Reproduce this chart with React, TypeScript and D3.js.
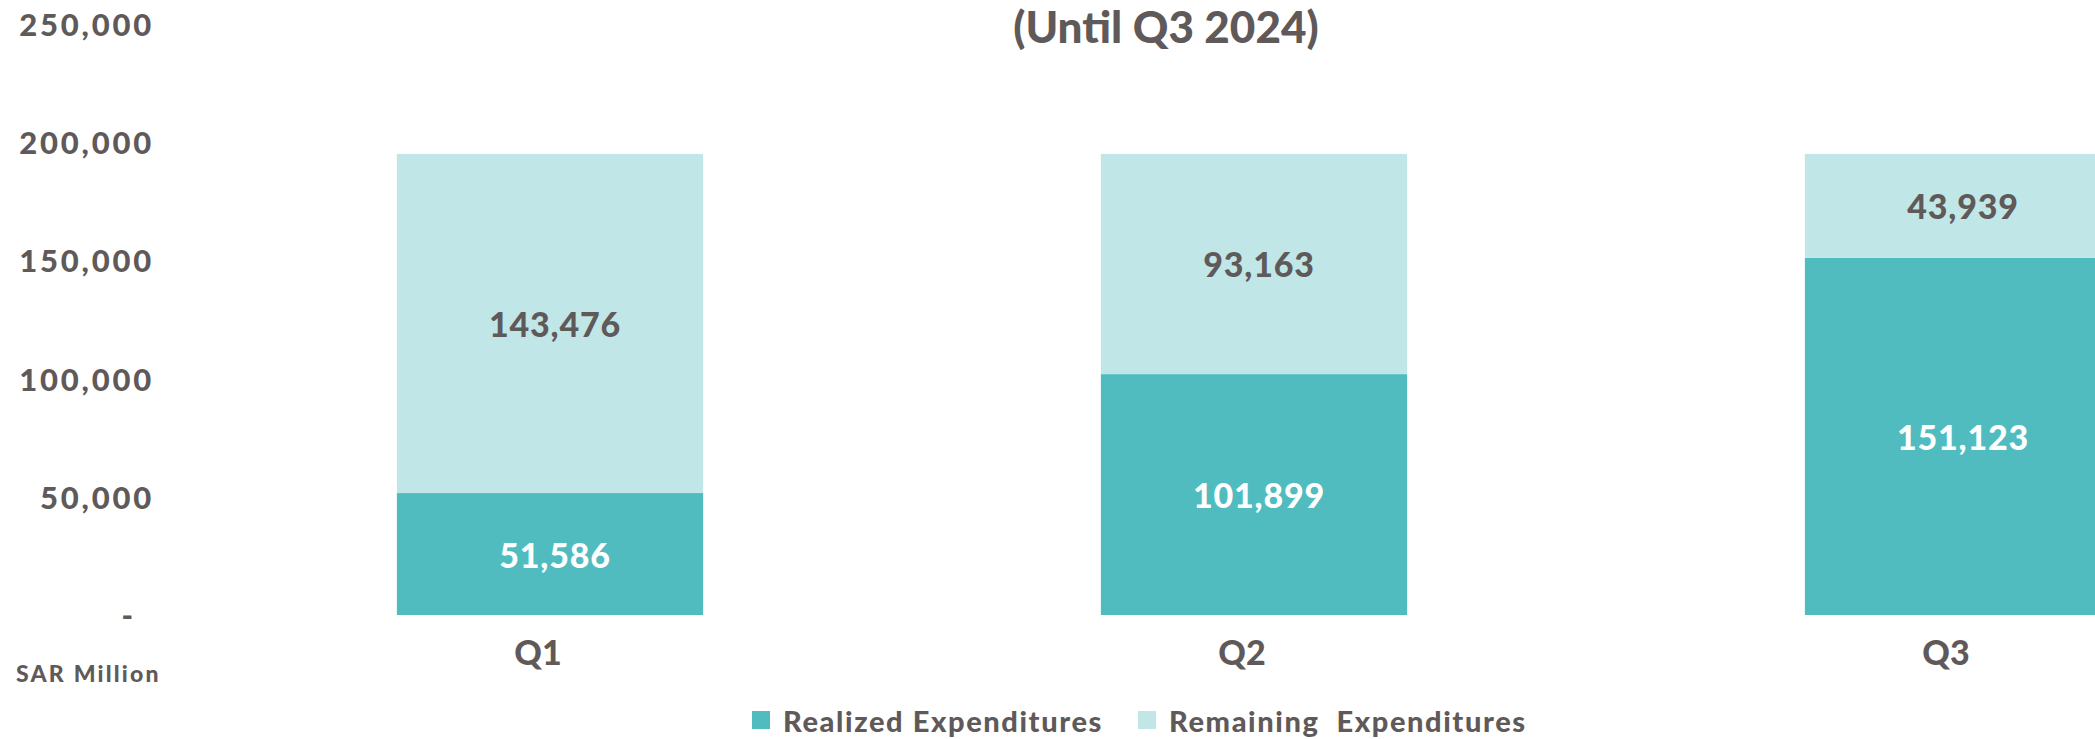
import React, { useEffect, useRef } from 'react';
import * as d3 from 'd3';

const quarters = ['Q1', 'Q2', 'Q3'];
const realized = [51586, 101899, 151123];
const remaining = [143476, 93163, 43939];
const yTicks = [0, 50000, 100000, 150000, 200000, 250000];
const seriesNames = ['Realized Expenditures', 'Remaining  Expenditures'];
const title = '(Until Q3 2024)';
const unitLabel = 'SAR Million';

const colors = ['#50bcbf', '#c1e6e7'];
const textGray = '#5f5a59';
const font = 'Lato, "Open Sans", sans-serif';

function App() {
  const ref = useRef(null);
  const width = 2095;
  const height = 739;

  useEffect(() => {
    document.body.style.margin = '0';
    drawChart();
  }, []);

  function drawChart() {
    const root = d3.select(ref.current);
    root.selectAll('*').remove();

    const svg = root
      .append('svg')
      .attr('width', width)
      .attr('height', height)
      .style('display', 'block')
      .style('font-family', font)
      .style('font-weight', 900);

    const y = d3.scaleLinear().domain([0, 250000]).range([615, 24]);
    const x = d3
      .scaleBand()
      .domain(quarters)
      .range([198, 2310])
      .paddingInner(0.565)
      .paddingOuter(0.2825);

    const rows = quarters.map((q, i) => ({
      q,
      realized: realized[i],
      remaining: remaining[i],
    }));
    const stack = d3.stack().keys(['realized', 'remaining'])(rows);

    // bars
    const layers = svg
      .selectAll('g.layer')
      .data(stack)
      .enter()
      .append('g')
      .attr('fill', (_, i) => colors[i]);

    layers
      .selectAll('rect')
      .data((d) => d)
      .enter()
      .append('rect')
      .attr('x', (d) => x(d.data.q))
      .attr('width', x.bandwidth())
      .attr('y', (d) => y(d[1]))
      .attr('height', (d) => y(d[0]) - y(d[1]));

    // value labels
    layers
      .selectAll('text')
      .data((d) => d)
      .enter()
      .append('text')
      .attr('x', (d) => x(d.data.q) + x.bandwidth() / 2 + 5)
      .attr('y', (d) => (y(d[0]) + y(d[1])) / 2)
      .attr('text-anchor', 'middle')
      .attr('dominant-baseline', 'central')
      .style('font-size', '34px')
      .style('letter-spacing', '0.8px')
      .style('fill', function () {
        const k = d3.select(this.parentNode).datum().key;
        return k === 'realized' ? '#ffffff' : textGray;
      })
      .text((d) => d3.format(',')(d[1] - d[0]));

    // y tick labels
    svg
      .append('g')
      .selectAll('text')
      .data(yTicks)
      .enter()
      .append('text')
      .attr('x', (d) => (d === 0 ? 136 : 154))
      .attr('y', (d) => y(d))
      .attr('text-anchor', 'end')
      .attr('dominant-baseline', 'central')
      .style('font-size', '31px')
      .style('letter-spacing', '2.8px')
      .style('fill', textGray)
      .text((d) => (d === 0 ? '-' : d3.format(',')(d)));

    // x labels
    svg
      .append('g')
      .selectAll('text')
      .data(quarters)
      .enter()
      .append('text')
      .attr('x', (d) => x(d) + x.bandwidth() / 2 - 12)
      .attr('y', 651)
      .attr('text-anchor', 'middle')
      .attr('dominant-baseline', 'central')
      .style('font-size', '34px')
      .style('fill', textGray)
      .text((d) => d);

    svg
      .append('text')
      .attr('x', 16)
      .attr('y', 673)
      .attr('dominant-baseline', 'central')
      .style('font-size', '23px')
      .style('letter-spacing', '2.2px')
      .style('fill', textGray)
      .text(unitLabel);

    svg
      .append('text')
      .attr('x', 1166)
      .attr('y', 26)
      .attr('text-anchor', 'middle')
      .attr('dominant-baseline', 'central')
      .style('font-size', '44px')
      .style('fill', textGray)
      .text(title);

    // legend
    const legendX = [752, 1138];
    const legend = svg
      .append('g')
      .selectAll('g')
      .data(seriesNames)
      .enter()
      .append('g')
      .attr('transform', (_, i) => `translate(${legendX[i]}, 719)`);

    legend
      .append('rect')
      .attr('x', 0)
      .attr('y', -8)
      .attr('width', 18)
      .attr('height', 18)
      .attr('fill', (_, i) => colors[i]);

    legend
      .append('text')
      .attr('x', 31)
      .attr('y', 1)
      .attr('dominant-baseline', 'central')
      .style('font-size', '29px')
      .style('letter-spacing', '1.6px')
      .style('white-space', 'pre')
      .style('fill', textGray)
      .text((d) => d);
  }

  return <div ref={ref} />;
}

export default App;
